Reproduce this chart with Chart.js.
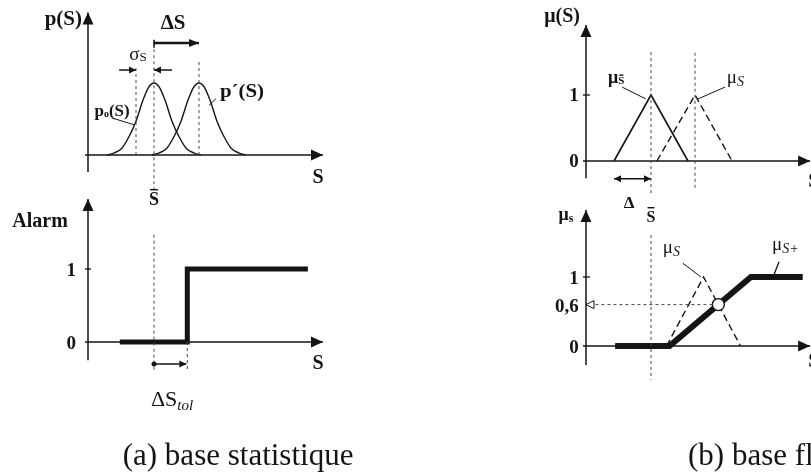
<!DOCTYPE html>
<html><head><meta charset="utf-8">
<script src="https://cdn.jsdelivr.net/npm/chart.js@4"></script>
<style>
body{margin:0;background:#fff;width:811px;height:476px;overflow:hidden;position:relative}
canvas{position:absolute;left:0;top:0}
</style></head>
<body>
<canvas id="cA1" width="811" height="476"></canvas>
<canvas id="cA2" width="811" height="476"></canvas>
<canvas id="cB1" width="811" height="476"></canvas>
<canvas id="cB2" width="811" height="476"></canvas>
<script>
// ---------- data: (a) base statistique (S in units of sigma, centred on S-bar) ----------
const sBar = 0;
const sigmaS = 1;
const deltaS = 2.5;
const pCurveX = [-2.6, -2.2, -1.8, -1.4, -1.0, -0.6, -0.3, 0, 0.3, 0.6, 1.0, 1.4, 1.8, 2.2, 2.6];
const pCurveY = [0, 0.03, 0.09, 0.25, 0.47, 0.77, 0.94, 1, 0.94, 0.77, 0.47, 0.25, 0.09, 0.03, 0];
const alarmX = [-1.9, 1.85, 1.85, 8.55];
const alarmY = [0, 0, 1, 1];
const deltaStol = 1.85;
const alarmTickLabels = ['0', '1'];
const alarmTickValues = [0, 1];

// ---------- data: (b) base floue (S in units of Delta, centred on S-bar) ----------
const muNomX = [-1, 0, 1];
const muNomY = [0, 1, 0];
const muShiftX = [0.16, 1.19, 2.19];
const muShiftY = [0, 1, 0];
const muSX = [0.42, 1.42, 2.42];
const muSY = [0, 1, 0];
const muPlusX = [-0.97, 0.5, 2.7, 4.1];
const muPlusY = [0, 0, 1, 1];
const membership = 0.6;
const membershipS = 1.82;
const muTickValues = [0, 0.6, 1];
const muTickLabels = ['0', '0,6', '1'];
const muTopTickValues = [0, 1];
const muTopTickLabels = ['0', '1'];

// ---------- drawing helpers ----------
const INK = '#141414';
const GUIDE = '#4a4a4a';
const FF = '"Liberation Serif", "Times New Roman", serif';
const B = s => `bold ${s}px ${FF}`;
const R = s => `${s}px ${FF}`;
const I = s => `italic ${s}px ${FF}`;

function head(ctx, from, to, L, W, open) {
  const dx = to[0] - from[0], dy = to[1] - from[1], d = Math.hypot(dx, dy) || 1;
  const ux = dx / d, uy = dy / d;
  const bx = to[0] - ux * L, by = to[1] - uy * L;
  ctx.beginPath();
  ctx.moveTo(to[0], to[1]);
  ctx.lineTo(bx - uy * W, by + ux * W);
  ctx.lineTo(bx + uy * W, by - ux * W);
  ctx.closePath();
  if (open) { ctx.fillStyle = '#fff'; ctx.fill(); ctx.lineWidth = 1; ctx.stroke(); }
  else ctx.fill();
}

function drawRich(ctx, x, y, parts, align) {
  let total = 0;
  parts.forEach(p => { ctx.font = p.f; p.w = ctx.measureText(p.t).width * (p.sx || 1); total += p.w; });
  let cx = align === 'center' ? x - total / 2 : align === 'right' ? x - total : x;
  ctx.textAlign = 'left'; ctx.textBaseline = 'alphabetic';
  parts.forEach(p => {
    ctx.save();
    ctx.font = p.f;
    ctx.translate(cx, y + (p.dy || 0));
    ctx.scale(p.sx || 1, 1);
    ctx.fillText(p.t, 0, 0);
    if (p.over !== undefined) {
      const w = ctx.measureText(p.t).width;
      ctx.lineWidth = 1.4; ctx.setLineDash([]);
      ctx.beginPath(); ctx.moveTo(1, p.over); ctx.lineTo(w - 1, p.over); ctx.stroke();
    }
    ctx.restore();
    cx += p.w;
  });
}

const decor = {
  id: 'decor',
  afterDatasetsDraw(chart, args, opts) {
    const ctx = chart.ctx;
    const X = v => chart.scales.x.getPixelForValue(v);
    const Y = v => chart.scales.y.getPixelForValue(v);
    ctx.save();
    for (const it of (opts.items || [])) {
      ctx.strokeStyle = it.c || INK; ctx.fillStyle = it.c || INK;
      ctx.lineWidth = it.w || 1.4;
      ctx.setLineDash(it.dash || []);
      ctx.lineCap = 'butt';
      if (it.k === 'line') {
        const p = it.pts.map(q => [X(q[0]), Y(q[1])]);
        ctx.beginPath();
        p.forEach((q, i) => i ? ctx.lineTo(q[0], q[1]) : ctx.moveTo(q[0], q[1]));
        ctx.stroke();
        ctx.setLineDash([]);
        ctx.fillStyle = it.hc || it.c || INK; ctx.strokeStyle = it.hc || it.c || INK;
        if (it.head) head(ctx, p[p.length - 2], p[p.length - 1], it.hl || 10, it.hw || 4.5, it.open);
        if (it.tail) head(ctx, p[1], p[0], it.hl || 10, it.hw || 4.5, it.open);
        if (it.dot) { ctx.beginPath(); ctx.arc(p[0][0], p[0][1], it.dot, 0, Math.PI * 2); ctx.fill(); }
      } else if (it.k === 'text') {
        ctx.fillStyle = it.c || INK; ctx.strokeStyle = it.c || INK;
        drawRich(ctx, X(it.x), Y(it.y), it.parts, it.align || 'center');
      }
    }
    ctx.restore();
  }
};

function series(xs, ys, o) {
  return Object.assign({
    data: xs.map((x, i) => ({ x, y: ys[i] })),
    showLine: true, pointRadius: 0, borderColor: INK, borderWidth: 1.5,
    fill: false, clip: false
  }, o || {});
}

function panel(id, xo, xppu, yo, yppu, datasets, items) {
  const W = 811, H = 476;
  return new Chart(document.getElementById(id), {
    type: 'scatter',
    data: { datasets },
    options: {
      responsive: false, animation: false, events: [],
      layout: { padding: 0, autoPadding: false },
      plugins: { legend: { display: false }, tooltip: { enabled: false }, decor: { items } },
      scales: {
        x: { type: 'linear', display: false, min: -xo / xppu, max: (W - xo) / xppu },
        y: { type: 'linear', display: false, min: -(H - yo) / yppu, max: yo / yppu }
      }
    },
    plugins: [decor]
  });
}

// ---------- (a) top: densities ----------
const axA = { yx: -3.667, xFrom: -3.83, xTo: 9.39 };
const pPrimeX = pCurveX.map(v => v + deltaS);
const sigmaArrowY = 1.18;
panel('cA1', 154, 18, 155, 72, [
  series(pCurveX.map(v => v + sBar), pCurveY, { cubicInterpolationMode: 'monotone', borderWidth: 1.4 }),
  series(pPrimeX, pCurveY, { cubicInterpolationMode: 'monotone', borderWidth: 1.4 })
], [
  { k: 'line', pts: [[axA.yx, -0.236], [axA.yx, 1.98]], head: true, hl: 12, hw: 5.5, w: 1.5 },
  { k: 'line', pts: [[axA.xFrom, 0], [axA.xTo, 0]], head: true, hl: 12, hw: 5.5, w: 1.5 },
  { k: 'line', pts: [[sBar - sigmaS, 0], [sBar - sigmaS, 1.24]], dash: [3, 3], w: 1, c: GUIDE },
  { k: 'line', pts: [[sBar, -0.49], [sBar, 1.49]], dash: [3, 3], w: 1, c: GUIDE },
  { k: 'line', pts: [[sBar + deltaS, 0], [sBar + deltaS, 1.29]], dash: [3, 3], w: 1, c: GUIDE },
  { k: 'line', pts: [[sBar, 1.49], [sBar, 1.6]], w: 1.6 },
  { k: 'line', pts: [[sBar, 1.556], [sBar + deltaS, 1.556]], head: true, hl: 10, hw: 4, w: 2.6 },
  { k: 'line', pts: [[sBar - sigmaS - 0.94, sigmaArrowY], [sBar - sigmaS, sigmaArrowY]], head: true, hl: 7, hw: 3.5, w: 1.5 },
  { k: 'line', pts: [[sBar + 1.0, sigmaArrowY], [sBar, sigmaArrowY]], head: true, hl: 7, hw: 3.5, w: 1.5 },
  { k: 'line', pts: [[-2.28, 0.51], [-1.11, 0.42]], w: 1 },
  { k: 'line', pts: [[3.44, 0.78], [3.06, 0.69]], w: 1 },
  { k: 'text', x: -4.0, y: 1.806, align: 'right', parts: [{ t: 'p(S)', f: B(21) }] },
  { k: 'text', x: 1.06, y: 1.75, parts: [{ t: 'ΔS', f: B(21) }] },
  { k: 'text', x: -0.89, y: 1.32, parts: [{ t: 'σ', f: R(19) }, { t: 'S', f: R(13), dy: 1 }] },
  { k: 'text', x: -2.33, y: 0.54, parts: [{ t: 'p', f: B(17) }, { t: 'o', f: B(10), dy: 1 }, { t: '(S)', f: B(17) }] },
  { k: 'text', x: 4.89, y: 0.806, parts: [{ t: 'p´(S)', f: B(19), sx: 1.1 }] },
  { k: 'text', x: 9.11, y: -0.39, parts: [{ t: 'S', f: B(20) }] },
  { k: 'text', x: sBar, y: -0.69, parts: [{ t: 'S', f: B(18), over: -15 }] }
]);

// ---------- (a) bottom: alarm ----------
const tickItemsA = alarmTickValues.map((v, i) => ({ k: 'text', x: -4.33, y: v - 0.096, align: 'right', parts: [{ t: alarmTickLabels[i], f: B(19) }] }));
panel('cA2', 154, 18, 342, 73, [
  series(alarmX, alarmY, { borderWidth: 5, borderJoinStyle: 'miter', borderCapStyle: 'butt' })
], [
  { k: 'line', pts: [[axA.yx, -0.25], [axA.yx, 1.96]], head: true, hl: 12, hw: 5.5, w: 1.5 },
  { k: 'line', pts: [[axA.xFrom, 0], [axA.xTo, 0]], head: true, hl: 12, hw: 5.5, w: 1.5 },
  { k: 'line', pts: [[axA.xFrom, 1], [-3.5, 1]], w: 1.3 },
  { k: 'line', pts: [[sBar, 1.47], [sBar, -0.38]], dash: [3, 3], w: 1, c: GUIDE },
  { k: 'line', pts: [[sBar + deltaStol, 0], [sBar + deltaStol, -0.41]], dash: [3, 3], w: 1, c: GUIDE },
  { k: 'line', pts: [[sBar, -0.30], [sBar + deltaStol - 0.05, -0.30]], head: true, hl: 7, hw: 3.5, w: 1.5, dot: 2.5 },
  ...tickItemsA,
  { k: 'text', x: -6.33, y: 1.575, parts: [{ t: 'Alarm', f: B(20) }] },
  { k: 'text', x: 9.11, y: -0.37, parts: [{ t: 'S', f: B(20) }] },
  { k: 'text', x: 1.0, y: -0.877, parts: [{ t: 'ΔS', f: R(22) }, { t: 'tol', f: I(15), dy: 4 }] },
  { k: 'text', x: 4.67, y: -1.685, parts: [{ t: '(a) base statistique', f: R(31) }] }
]);

// ---------- (b) top: membership functions ----------
const axB = { yx: -1.757, xFrom: -1.84, xTo: 4.3 };
const tickItemsB1 = muTopTickValues.map((v, i) => ({ k: 'text', x: -1.95, y: v - 0.09, align: 'right', parts: [{ t: muTopTickLabels[i], f: B(19) }] }));
panel('cB1', 651, 37, 161, 66, [
  series(muNomX, muNomY, { borderWidth: 1.6 }),
  series(muShiftX, muShiftY, { borderWidth: 1.4, borderDash: [7, 4] })
], [
  { k: 'line', pts: [[axB.yx, -0.26], [axB.yx, 2.06]], head: true, hl: 12, hw: 5.5, w: 1.5 },
  { k: 'line', pts: [[axB.xFrom, 0], [axB.xTo, 0]], head: true, hl: 12, hw: 5.5, w: 1.5 },
  { k: 'line', pts: [[axB.xFrom, 1], [-1.65, 1]], w: 1.3 },
  { k: 'line', pts: [[0, 1.65], [0, -0.52]], dash: [3, 3], w: 1, c: GUIDE },
  { k: 'line', pts: [[muShiftX[1], 1.64], [muShiftX[1], -0.44]], dash: [3, 3], w: 1, c: GUIDE },
  { k: 'line', pts: [[-1, -0.27], [0, -0.27]], head: true, tail: true, hl: 7, hw: 3.5, w: 1.5 },
  { k: 'line', pts: [[-0.78, 1.12], [-0.14, 0.94]], w: 1 },
  { k: 'line', pts: [[2.0, 1.12], [1.27, 0.94]], w: 1 },
  ...tickItemsB1,
  { k: 'text', x: -1.92, y: 2.1, align: 'right', parts: [{ t: 'μ(S)', f: B(20) }] },
  { k: 'text', x: -1.16, y: 1.18, align: 'left', parts: [{ t: 'μ', f: B(18) }, { t: 'S', f: B(11), dy: 1, over: -9 }] },
  { k: 'text', x: 2.05, y: 1.18, align: 'left', parts: [{ t: 'μ', f: R(19) }, { t: 'S', f: I(14), dy: 3 }] },
  { k: 'text', x: -0.59, y: -0.71, parts: [{ t: 'Δ', f: B(17) }] },
  { k: 'text', x: 0, y: -0.92, parts: [{ t: 'S', f: B(16), over: -14 }] },
  { k: 'text', x: 4.25, y: -0.4, align: 'left', parts: [{ t: 'S', f: B(20) }] }
]);

// ---------- (b) bottom: fuzzy alarm ----------
const tickItemsB2 = muTickValues.map((v, i) => ({ k: 'text', x: -1.95, y: v - 0.1, align: 'right', parts: [{ t: muTickLabels[i], f: B(19) }] }));
panel('cB2', 651, 37, 346, 69, [
  { data: [{ x: membershipS, y: membership }], showLine: false, pointRadius: 6, pointBackgroundColor: '#fff', pointBorderColor: INK, pointBorderWidth: 1.4, clip: false, order: 0 },
  series(muPlusX, muPlusY, { borderWidth: 6, borderJoinStyle: 'miter', borderCapStyle: 'butt', order: 1 }),
  series(muSX, muSY, { borderWidth: 1.4, borderDash: [7, 4], order: 2 })
], [
  { k: 'line', pts: [[axB.yx, -0.275], [axB.yx, 1.97]], head: true, hl: 12, hw: 5.5, w: 1.5 },
  { k: 'line', pts: [[axB.xFrom, 0], [axB.xTo, 0]], head: true, hl: 12, hw: 5.5, w: 1.5 },
  { k: 'line', pts: [[axB.xFrom, 1], [-1.65, 1]], w: 1.3 },
  { k: 'line', pts: [[0, 1.61], [0, -0.49]], dash: [3, 3], w: 1, c: GUIDE },
  { k: 'line', pts: [[membershipS - 0.16, membership], [axB.yx, membership]], dash: [3, 3], w: 1, c: GUIDE, head: true, open: true, hl: 8, hw: 4, hc: INK },
  { k: 'line', pts: [[0.86, 1.2], [1.35, 1.0]], w: 1 },
  { k: 'line', pts: [[3.46, 1.22], [3.3, 1.0]], w: 1.3 },
  ...tickItemsB2,
  { k: 'text', x: -2.3, y: 1.83, parts: [{ t: 'μ', f: B(18) }, { t: 's', f: B(12), dy: 2 }] },
  { k: 'text', x: 0.32, y: 1.35, align: 'left', parts: [{ t: 'μ', f: R(19) }, { t: 'S', f: I(14), dy: 3 }] },
  { k: 'text', x: 3.27, y: 1.39, align: 'left', parts: [{ t: 'μ', f: R(19) }, { t: 'S+', f: I(14), dy: 3 }] },
  { k: 'text', x: 4.25, y: -0.3, align: 'left', parts: [{ t: 'S', f: B(20) }] },
  { k: 'text', x: 1.0, y: -1.72, align: 'left', parts: [{ t: '(b) base floue', f: R(31) }] }
]);
</script>
</body></html>
